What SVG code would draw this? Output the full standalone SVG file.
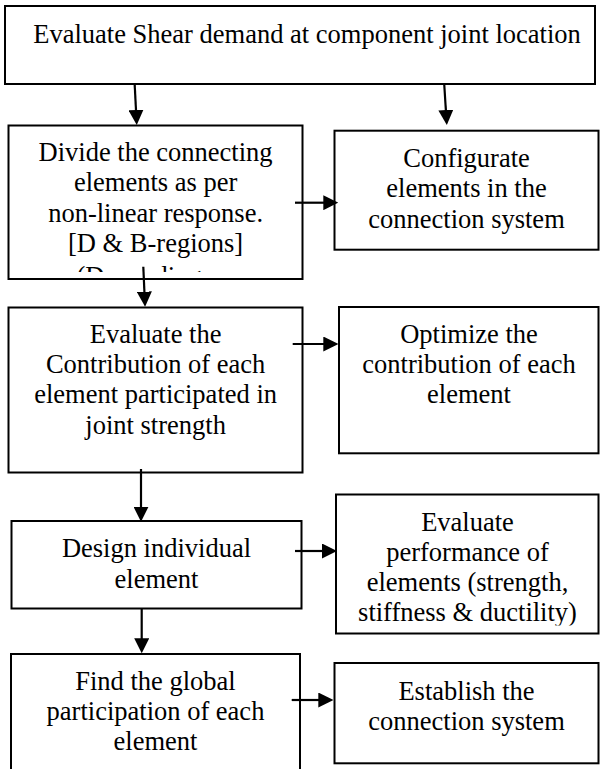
<svg xmlns="http://www.w3.org/2000/svg" width="601" height="769" viewBox="0 0 601 769">
<defs>
<style>
.box{fill:#fff;stroke:#000;stroke-width:2}
.t{font-family:"Liberation Serif","Times New Roman",serif;font-size:26.5px;fill:#000;text-anchor:middle}
.c{stroke:#000;stroke-width:2.2;fill:none;marker-end:url(#ah)}
</style>
<marker id="ah" markerUnits="userSpaceOnUse" markerWidth="15" markerHeight="15" viewBox="0 0 15 15" refX="2" refY="7.5" orient="auto">
<path d="M0,0 L15,7.5 L0,15 z" fill="#000"/>
</marker>
<clipPath id="clipDivide"><rect x="8.5" y="125" width="294" height="147"/></clipPath>
<clipPath id="clipPerf"><rect x="336" y="494" width="263" height="131.5"/></clipPath>
</defs>
<rect width="601" height="769" fill="#fff"/>
<g id="n1">
<rect class="box" x="5" y="6" width="590" height="78"/>
<text class="t" x="307" y="42.7">Evaluate Shear demand at component joint location</text>
</g>
<g id="n2">
<rect class="box" x="8.5" y="125.5" width="294" height="153.5"/>
<g clip-path="url(#clipDivide)">
<text class="t" x="155.6" y="160.7">Divide the connecting</text>
<text class="t" x="155.6" y="191">elements as per</text>
<text class="t" x="155.6" y="221.5">non-linear response.</text>
<text class="t" x="155.6" y="252">[D &amp; B-regions]</text>
<text class="t" x="155.6" y="284.5">(Depending on</text>
</g>
</g>
<g id="n3">
<rect class="box" x="334.5" y="130.7" width="264" height="119"/>
<text class="t" x="466.5" y="166.7">Configurate</text>
<text class="t" x="466.5" y="197.3">elements in the</text>
<text class="t" x="466.5" y="228">connection system</text>
</g>
<g id="n4">
<rect class="box" x="8.5" y="307.5" width="294" height="165"/>
<text class="t" x="155.6" y="342.7">Evaluate the</text>
<text class="t" x="155.6" y="373">Contribution of each</text>
<text class="t" x="155.6" y="403.3">element participated in</text>
<text class="t" x="155.6" y="433.5">joint strength</text>
</g>
<g id="n5">
<rect class="box" x="339" y="307" width="259.5" height="146.3"/>
<text class="t" x="469" y="342.7">Optimize the</text>
<text class="t" x="469" y="373">contribution of each</text>
<text class="t" x="469" y="403.3">element</text>
</g>
<g id="n6">
<rect class="box" x="11.5" y="521" width="290" height="87.5"/>
<text class="t" x="156.5" y="557.3">Design individual</text>
<text class="t" x="156.5" y="587.5">element</text>
</g>
<g id="n7">
<rect class="box" x="336" y="494.5" width="262.5" height="139"/>
<g clip-path="url(#clipPerf)">
<text class="t" x="467.5" y="531">Evaluate</text>
<text class="t" x="467.5" y="561">performance of</text>
<text class="t" x="467.5" y="591">elements (strength,</text>
<text class="t" x="467.5" y="621">stiffness &amp; ductility)</text>
</g>
</g>
<g id="n8">
<rect class="box" x="11" y="654" width="289" height="130"/>
<text class="t" x="155.5" y="690">Find the global</text>
<text class="t" x="155.5" y="720">participation of each</text>
<text class="t" x="155.5" y="749.5">element</text>
</g>
<g id="n9">
<rect class="box" x="334.5" y="663" width="264" height="100.3"/>
<text class="t" x="466.5" y="700">Establish the</text>
<text class="t" x="466.5" y="729.5">connection system</text>
</g>
<g id="connectors">
<path class="c" d="M134.7,85 L136.1,112"/>
<path class="c" d="M444.3,85 L446,112"/>
<path class="c" d="M143.3,266.7 L144.5,293.7"/>
<path class="c" d="M141,469 L141,508.7"/>
<path class="c" d="M141.7,608.5 L141.7,640.3"/>
<path class="c" d="M295,202.7 L325.3,202.7"/>
<path class="c" d="M292.7,344 L325.3,344"/>
<path class="c" d="M295,551 L324,551"/>
<path class="c" d="M291.7,700 L320.3,700"/>
</g>
</svg>
